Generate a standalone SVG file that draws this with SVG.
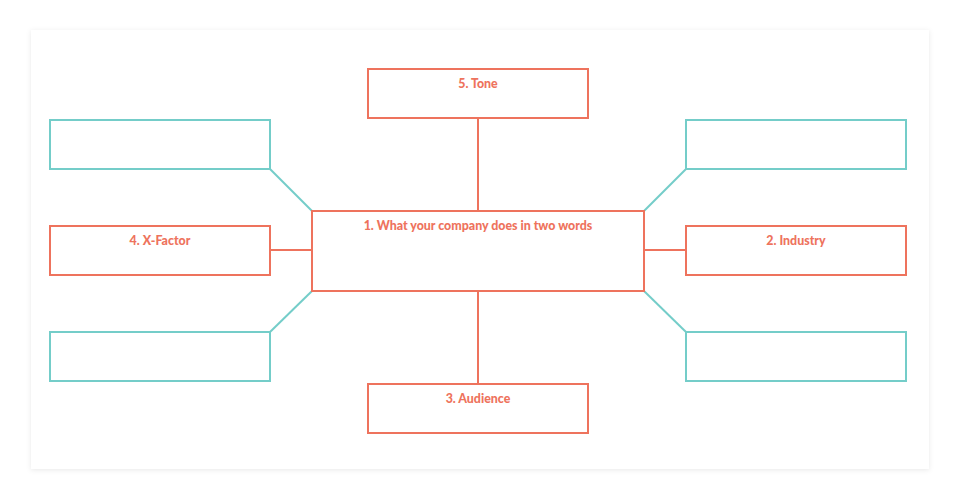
<svg xmlns="http://www.w3.org/2000/svg" width="960" height="500" viewBox="0 0 960 500">
<defs>
<filter id="shadow" x="-5%" y="-5%" width="110%" height="110%">
<feDropShadow dx="0" dy="1" stdDeviation="2.5" flood-color="#000" flood-opacity="0.09"/>
</filter>
<style>
.o{fill:#fff;stroke:#ee735d;stroke-width:2}
.t{fill:#fff;stroke:#74cdc9;stroke-width:2}
.lo{stroke:#ee735d;stroke-width:2;fill:none}
.lt{stroke:#74cdc9;stroke-width:2;fill:none}
text{font-family:Lato,"Open Sans","Liberation Sans",sans-serif;font-weight:900;font-size:12.4px;fill:#ee735d;text-anchor:middle}
</style>
</defs>
<rect width="960" height="500" fill="#fff"/>
<rect x="31" y="30" width="898" height="439" fill="#fff" filter="url(#shadow)"/>
<g id="connectors">
<line class="lo" x1="478" y1="118" x2="478" y2="211"/>
<line class="lo" x1="478" y1="291" x2="478" y2="383"/>
<line class="lo" x1="270" y1="250" x2="312" y2="250"/>
<line class="lo" x1="644" y1="250" x2="686" y2="250"/>
<line class="lt" x1="270" y1="169" x2="312" y2="211"/>
<line class="lt" x1="270" y1="332" x2="312" y2="291"/>
<line class="lt" x1="686" y1="169" x2="644" y2="211"/>
<line class="lt" x1="686" y1="332" x2="644" y2="291"/>
</g>
<g id="center"><rect class="o" x="312" y="211" width="332" height="80"/><text x="478" y="230">1. What your company does in two words</text></g>
<g id="tone"><rect class="o" x="368" y="69" width="220" height="49"/><text x="478" y="87.5">5. Tone</text></g>
<g id="audience"><rect class="o" x="368" y="384" width="220" height="49"/><text x="478" y="402.5">3. Audience</text></g>
<g id="xfactor"><rect class="o" x="50" y="226" width="220" height="49"/><text x="160" y="244.5">4. X-Factor</text></g>
<g id="industry"><rect class="o" x="686" y="226" width="220" height="49"/><text x="796" y="244.5">2. Industry</text></g>
<g id="left-top"><rect class="t" x="50" y="120" width="220" height="49"/></g>
<g id="left-bottom"><rect class="t" x="50" y="332" width="220" height="49"/></g>
<g id="right-top"><rect class="t" x="686" y="120" width="220" height="49"/></g>
<g id="right-bottom"><rect class="t" x="686" y="332" width="220" height="49"/></g>
</svg>
